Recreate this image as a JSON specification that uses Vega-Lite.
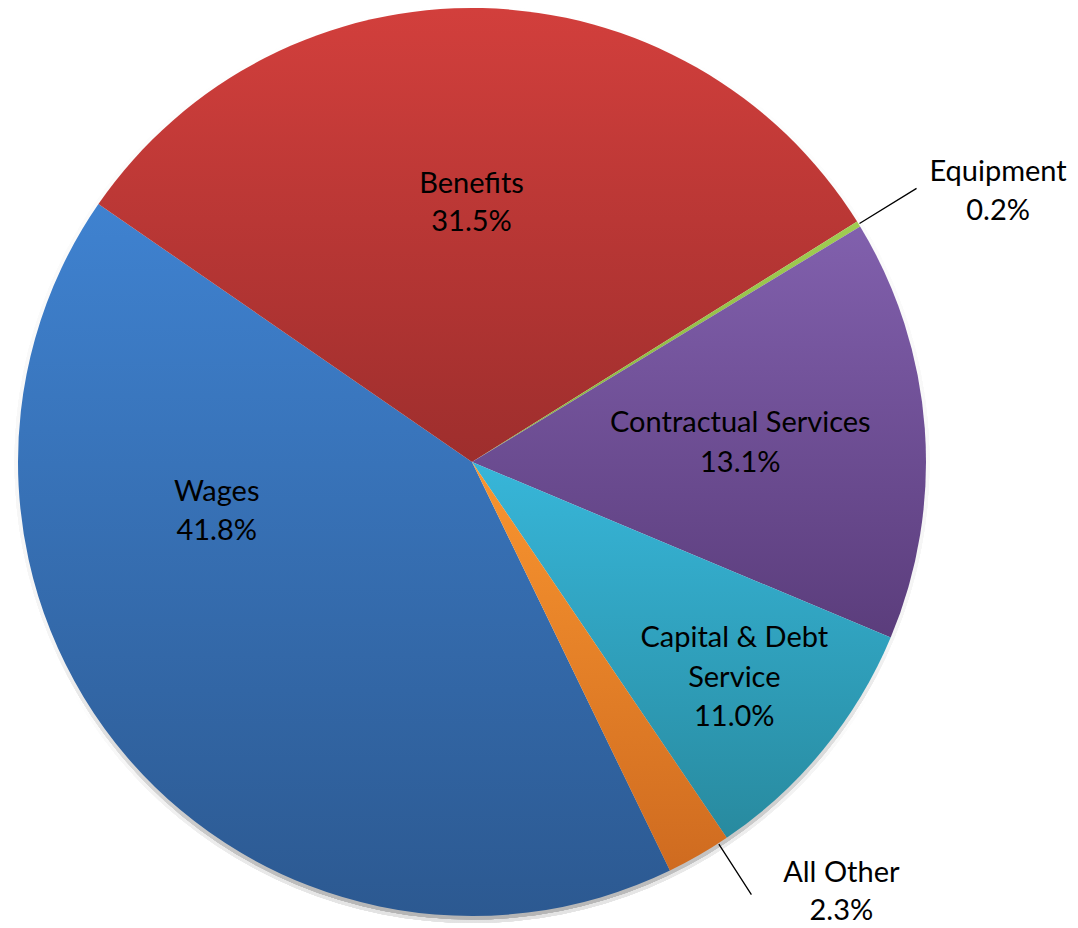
{
  "$schema": "https://vega.github.io/schema/vega-lite/v6.json",
  "width": 944,
  "height": 924,
  "padding": {"left": 0, "top": 0, "right": 134, "bottom": 4},
  "autosize": {"type": "none"},
  "background": "white",
  "config": {"view": {"stroke": null}},
  "data": {
    "values": [
      {"idx": 1, "cat": "Wages", "share": 41.8, "label": "Wages\n41.8%"},
      {"idx": 2, "cat": "Benefits", "share": 31.5, "label": "Benefits\n31.5%"},
      {"idx": 3, "cat": "Equipment", "share": 0.2, "label": "Equipment\n0.2%"},
      {"idx": 4, "cat": "Contractual Services", "share": 15.0, "label": "Contractual Services\n13.1%"},
      {"idx": 5, "cat": "Capital & Debt Service", "share": 9.2, "label": "Capital & Debt\nService\n11.0%"},
      {"idx": 6, "cat": "All Other", "share": 2.3, "label": "All Other\n2.3%"}
    ]
  },
  "encoding": {
    "theta": {"field": "share", "type": "quantitative", "stack": true, "scale": {"range": [2.6904, 8.9736]}},
    "order": {"field": "idx", "type": "quantitative"}
  },
  "layer": [
    {
      "mark": {"type": "arc", "radius": 461, "theta": 0, "theta2": 6.2832, "fill": {"gradient": "linear", "x1": 0, "y1": 0, "x2": 0, "y2": 1, "stops": [{"offset": 0, "color": "#ffffff"}, {"offset": 0.75, "color": "#ffffff"}, {"offset": 1, "color": "#e2e2e2"}]}},
      "encoding": {"theta": {"value": 0}, "theta2": {"value": 6.2832}}
    },
    {
      "mark": {"type": "arc", "radius": 457.5, "theta": 0, "theta2": 6.2832, "fill": {"gradient": "linear", "x1": 0, "y1": 0, "x2": 0, "y2": 1, "stops": [{"offset": 0, "color": "#ffffff"}, {"offset": 0.7, "color": "#f4f4f4"}, {"offset": 1, "color": "#b4b4b4"}]}},
      "encoding": {"theta": {"value": 0}, "theta2": {"value": 6.2832}}
    },
    {
      "mark": {"type": "arc", "radius": 454},
      "encoding": {
        "fill": {
          "condition": [
            {"test": "datum.cat === 'Wages'", "value": {"gradient": "linear", "x1": 0, "y1": 0, "x2": 0, "y2": 1, "stops": [{"offset": 0, "color": "#3f82d0"}, {"offset": 1, "color": "#2c5991"}]}},
            {"test": "datum.cat === 'Benefits'", "value": {"gradient": "linear", "x1": 0, "y1": 0, "x2": 0, "y2": 1, "stops": [{"offset": 0, "color": "#d23f3c"}, {"offset": 1, "color": "#9e2e2d"}]}},
            {"test": "datum.cat === 'Equipment'", "value": {"gradient": "linear", "x1": 0, "y1": 0, "x2": 0, "y2": 1, "stops": [{"offset": 0, "color": "#a0cd52"}, {"offset": 1, "color": "#88b340"}]}},
            {"test": "datum.cat === 'Contractual Services'", "value": {"gradient": "linear", "x1": 0, "y1": 0, "x2": 0, "y2": 1, "stops": [{"offset": 0, "color": "#8160ad"}, {"offset": 1, "color": "#5b3d7c"}]}},
            {"test": "datum.cat === 'Capital & Debt Service'", "value": {"gradient": "linear", "x1": 0, "y1": 0, "x2": 0, "y2": 1, "stops": [{"offset": 0, "color": "#37b6d9"}, {"offset": 1, "color": "#288a9f"}]}},
            {"test": "datum.cat === 'All Other'", "value": {"gradient": "linear", "x1": 0, "y1": 0, "x2": 0, "y2": 1, "stops": [{"offset": 0, "color": "#f9952f"}, {"offset": 1, "color": "#cf6b20"}]}}
          ],
          "value": "#999999"
        }
      }
    },
    {
      "mark": {"type": "arc", "radius": 522, "radius2": 455, "padAngle": 0.8, "fill": "white", "fillOpacity": 0, "stroke": "black", "strokeWidth": 1.3},
      "encoding": {"strokeOpacity": {"condition": {"test": "datum.cat === 'Equipment'", "value": 1}, "value": 0}}
    },
    {
      "mark": {"type": "arc", "radius": 515, "radius2": 455, "padAngle": 0.8, "thetaOffset": -0.05, "fill": "white", "fillOpacity": 0, "stroke": "black", "strokeWidth": 1.3},
      "encoding": {"strokeOpacity": {"condition": {"test": "datum.cat === 'All Other'", "value": 1}, "value": 0}}
    },
    {
      "mark": {"type": "text", "radius": 260, "thetaOffset": 0.518, "dy": -19.25, "font": "Lato", "fontSize": 29, "lineBreak": "\n", "lineHeight": 38.5, "align": "center", "baseline": "middle", "color": "black"},
      "encoding": {"text": {"condition": {"test": "datum.cat === 'Wages'", "field": "label", "type": "nominal"}, "value": ""}}
    },
    {
      "mark": {"type": "text", "radius": 259, "thetaOffset": -0.025, "dy": -19.25, "font": "Lato", "fontSize": 29, "lineBreak": "\n", "lineHeight": 38.5, "align": "center", "baseline": "middle", "color": "black"},
      "encoding": {"text": {"condition": {"test": "datum.cat === 'Benefits'", "field": "label", "type": "nominal"}, "value": ""}}
    },
    {
      "mark": {"type": "text", "radius": 269, "thetaOffset": 0.003, "dy": -20, "font": "Lato", "fontSize": 29, "lineBreak": "\n", "lineHeight": 40, "align": "center", "baseline": "middle", "color": "black"},
      "encoding": {"text": {"condition": {"test": "datum.cat === 'Contractual Services'", "field": "label", "type": "nominal"}, "value": ""}}
    },
    {
      "mark": {"type": "text", "radius": 339.6, "thetaOffset": 0.002, "dy": -39.5, "font": "Lato", "fontSize": 29, "lineBreak": "\n", "lineHeight": 39.5, "align": "center", "baseline": "middle", "color": "black"},
      "encoding": {"text": {"condition": {"test": "datum.cat === 'Capital & Debt Service'", "field": "label", "type": "nominal"}, "value": ""}}
    },
    {
      "mark": {"type": "text", "radius": 591.5, "thetaOffset": 0.077, "dy": -19.5, "font": "Lato", "fontSize": 29, "lineBreak": "\n", "lineHeight": 39, "align": "center", "baseline": "middle", "color": "black"},
      "encoding": {"text": {"condition": {"test": "datum.cat === 'Equipment'", "field": "label", "type": "nominal"}, "value": ""}}
    },
    {
      "mark": {"type": "text", "radius": 567, "thetaOffset": -0.186, "dy": -19, "font": "Lato", "fontSize": 29, "lineBreak": "\n", "lineHeight": 38, "align": "center", "baseline": "middle", "color": "black"},
      "encoding": {"text": {"condition": {"test": "datum.cat === 'All Other'", "field": "label", "type": "nominal"}, "value": ""}}
    }
  ]
}
